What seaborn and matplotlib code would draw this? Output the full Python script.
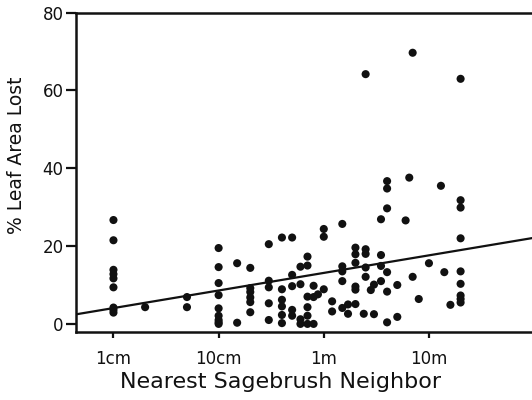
import numpy as np
import pandas as pd
import matplotlib
matplotlib.use("Agg")
import matplotlib.pyplot as plt
import seaborn as sns

# Distance to nearest sagebrush neighbor (cm) and % leaf area lost
distance_cm = (
    [1] * 9 + [2] + [5] * 2 + [10] * 9 + [15] * 2 + [20] * 6 + [30] * 5 + [40] * 6
    + [50] * 5 + [60] * 4 + [70] * 6 + [80] * 3 + [88] + [100] * 3 + [120] * 2
    + [150] * 5 + [170] * 2 + [200] * 6 + [240] + [250] * 5 + [280] + [300] * 2
    + [350] * 4 + [400] * 6 + [500] * 2 + [600] + [650] + [700] * 2 + [800]
    + [1000] + [1300] + [1400] + [1600] + [2000] * 9
)
leaf_loss = (
    [26.7, 21.5, 13.9, 12.8, 11.7, 9.4, 4.2, 3.6, 2.9]
    + [4.3]
    + [6.9, 4.3]
    + [19.5, 14.6, 10.5, 7.4, 4.0, 2.1, 1.0, 0.4, 0.0]
    + [0.3, 15.6]
    + [14.4, 9.2, 8.2, 6.8, 5.6, 3.0]
    + [20.5, 11.1, 9.4, 5.3, 1.0]
    + [22.2, 8.9, 6.2, 4.5, 2.3, 0.2]
    + [22.2, 12.6, 9.7, 3.6, 2.1]
    + [14.7, 10.2, 1.2, 0.0]
    + [17.3, 15.0, 7.0, 4.3, 2.1, 0.0]
    + [9.8, 6.9, 0.0]
    + [7.6]
    + [24.4, 22.4, 8.9]
    + [5.8, 3.2]
    + [25.7, 14.8, 13.5, 11.0, 4.1]
    + [5.0, 2.6]
    + [19.6, 17.9, 15.7, 9.6, 8.8, 5.1]
    + [2.6]
    + [64.2, 19.2, 18.0, 14.5, 12.1]
    + [8.7]
    + [10.1, 2.5]
    + [26.9, 17.7, 14.9, 11.0]
    + [36.7, 34.8, 29.7, 13.3, 8.3, 0.4]
    + [10.0, 1.8]
    + [26.6]
    + [37.6]
    + [69.7, 12.1]
    + [6.4]
    + [15.6]
    + [35.5]
    + [13.3]
    + [4.9]
    + [63.0, 31.8, 29.9, 22.0, 13.5, 10.3, 7.3, 6.4, 5.5]
)
tick_values = [1, 10, 100, 1000]
tick_labels = ["1cm", "10cm", "1m", "10m"]
y_ticks = [0, 20, 40, 60, 80]

df = pd.DataFrame({"dist": distance_cm, "loss": leaf_loss})

sns.set_style("ticks")
plt.rcParams["font.family"] = ["DejaVu Sans"]

fig = plt.figure(figsize=(5.32, 4.0), dpi=100)
ax = fig.add_axes([0.1429, 0.1708, 0.8571, 0.7975])
ax.set_xscale("log")
ax.set_xlim(10 ** -0.356, 10 ** 3.98)
ax.set_ylim(-2, 80)

sns.regplot(data=df, x="dist", y="loss", logx=True, ci=None, truncate=False, ax=ax,
            scatter_kws=dict(s=34, color="#111111", edgecolor="none", alpha=1),
            line_kws=dict(color="#111111", lw=1.6))

ax.set_xlim(10 ** -0.356, 10 ** 3.98)
ax.set_ylim(-2, 80)
ax.set_xticks(tick_values)
ax.set_xticklabels(tick_labels)
ax.xaxis.set_minor_locator(matplotlib.ticker.NullLocator())
ax.set_yticks(y_ticks)

ax.set_xlabel("Nearest Sagebrush Neighbor", fontsize=16, color="#111111")
ax.set_ylabel("% Leaf Area Lost", fontsize=13.5, color="#111111")
ax.xaxis.set_label_coords(0.4485, -0.125)
ax.yaxis.set_label_coords(-0.11, 0.552)

ax.tick_params(axis="both", labelsize=12, width=1.6, color="#111111",
               labelcolor="#111111", direction="out")
ax.tick_params(axis="x", length=4, pad=9)
ax.tick_params(axis="y", length=7, pad=2)

for side in ["left", "bottom", "top"]:
    ax.spines[side].set_visible(True)
    ax.spines[side].set_linewidth(1.8)
    ax.spines[side].set_color("#111111")
ax.spines["right"].set_visible(False)

fig.savefig("out.png", dpi=100)
